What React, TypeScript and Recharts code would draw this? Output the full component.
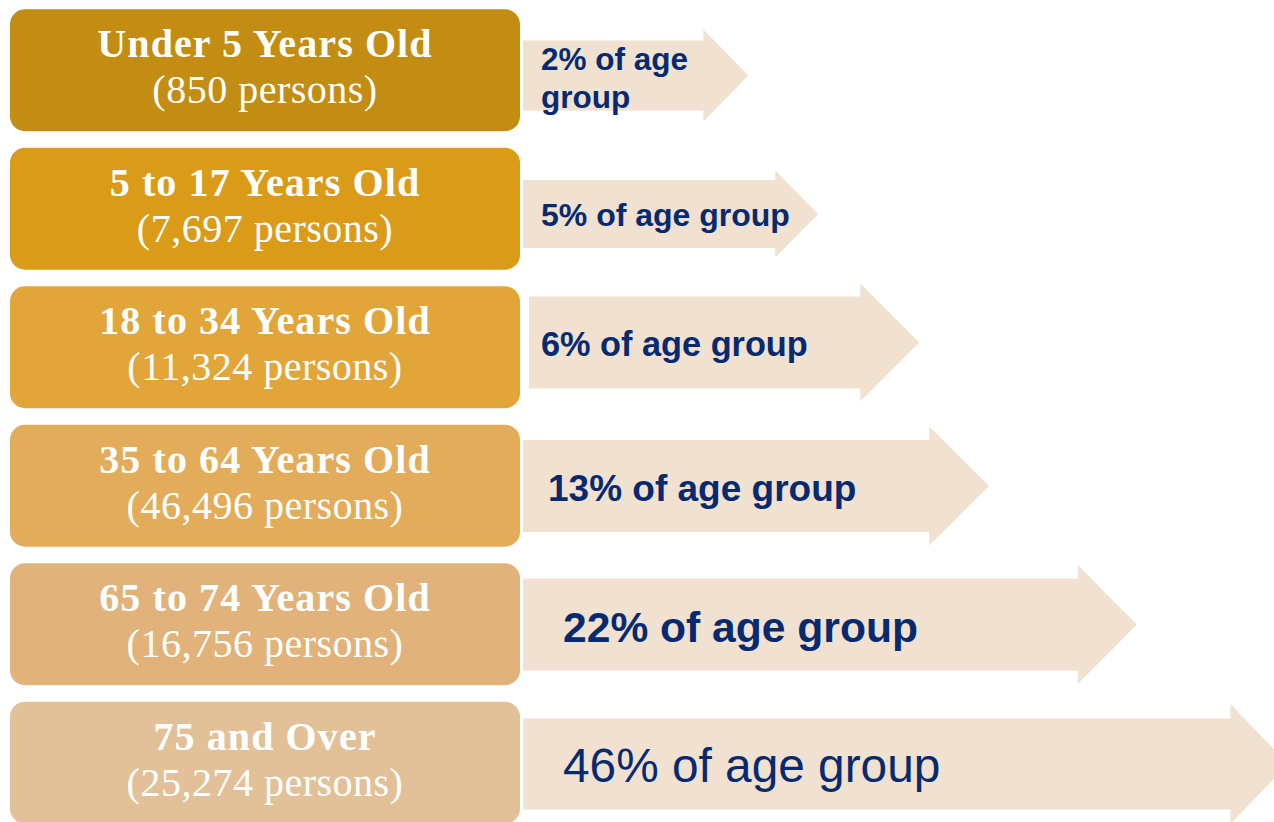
import { Bar, BarChart, XAxis, YAxis } from "recharts";

// age groups, people counts and share of each group
const ageGroups = [
  "Under 5 Years Old",
  "5 to 17 Years Old",
  "18 to 34 Years Old",
  "35 to 64 Years Old",
  "65 to 74 Years Old",
  "75 and Over",
];
const persons = [850, 7697, 11324, 46496, 16756, 25274];
const sharePct = [2, 5, 6, 13, 22, 46];
// how far each arrow reaches (0-100 of the arrow track)
const arrowReach = [29, 38, 51, 60, 79, 98.5];

const boxColors = ["#C38C12", "#DA9B19", "#E2A53A", "#E2AC5A", "#E1B37A", "#E3C198"];
const ARROW_FILL = "#F1E1D1";
const TEXT_NAVY = "#062a70";

// per-row arrow look: body/head height, head length, offsets, label font
const arrowStyle = [
  { body: 70, head: 92, headLen: 45, dx: 0, dy: 5, textDx: 18, textDy: 0, font: 31.5, bold: true, wrap: true },
  { body: 68, head: 87, headLen: 43, dx: 0, dy: 5, textDx: 18, textDy: 11.5, font: 32, bold: true, wrap: false },
  { body: 92, head: 118, headLen: 59, dx: 6, dy: -5, textDx: 12, textDy: 13, font: 34.3, bold: true, wrap: false },
  { body: 92, head: 119, headLen: 60, dx: 0, dy: 0, textDx: 25, textDy: 14.5, font: 37, bold: true, wrap: false },
  { body: 92, head: 119, headLen: 59, dx: 0, dy: 0, textDx: 40, textDy: 17, font: 42.6, bold: true, wrap: false },
  { body: 91, head: 120, headLen: 58, dx: 0, dy: 1, textDx: 40, textDy: 17.5, font: 47.8, bold: false, wrap: false },
];

const data = ageGroups.map((group, i) => ({
  group,
  persons: persons[i],
  share: sharePct[i],
  reach: arrowReach[i],
}));

const BOX_LEFT = 10;
const BOX_RIGHT = 520;
const BOX_H = 122;
const SERIF = "'Liberation Serif', 'Times New Roman', serif";
const SANS = "'Liberation Sans', Arial, sans-serif";

function BoxTick(props: any) {
  const { y, payload } = props;
  const i = ageGroups.indexOf(payload.value);
  const cx = (BOX_LEFT + BOX_RIGHT) / 2;
  return (
    <g>
      <rect
        x={BOX_LEFT}
        y={y - BOX_H / 2}
        width={BOX_RIGHT - BOX_LEFT}
        height={BOX_H}
        rx={15}
        ry={15}
        fill={boxColors[i]}
      />
      <text
        x={cx}
        y={y - 13}
        textAnchor="middle"
        fill="#fff"
        fontFamily={SERIF}
        fontWeight="bold"
        fontSize={40}
        letterSpacing={1.1}
      >
        {payload.value}
      </text>
      <text
        x={cx}
        y={y + 33}
        textAnchor="middle"
        fill="#fff"
        fontFamily={SERIF}
        fontSize={40}
        letterSpacing={0.5}
      >
        ({persons[i].toLocaleString("en-US")} persons)
      </text>
    </g>
  );
}

function Arrow(props: any) {
  const { x, y, width, height, index } = props;
  const s = arrowStyle[index];
  const cy = y + height / 2 + s.dy;
  const x0 = x + s.dx;
  const tip = x + width;
  const base = tip - s.headLen;
  const b = s.body / 2;
  const h = s.head / 2;
  const d = `M${x0},${cy - b} L${base},${cy - b} L${base},${cy - h} L${tip},${cy} L${base},${cy + h} L${base},${cy + b} L${x0},${cy + b} Z`;
  const label = `${sharePct[index]}% of age group`;
  const tx = x0 + s.textDx;
  return (
    <g>
      <path d={d} fill={ARROW_FILL} />
      {s.wrap ? (
        <text fill={TEXT_NAVY} fontFamily={SANS} fontWeight="bold" fontSize={s.font}>
          <tspan x={tx} y={cy - 6}>{`${sharePct[index]}% of age`}</tspan>
          <tspan x={tx} y={cy + 32}>group</tspan>
        </text>
      ) : (
        <text
          x={tx}
          y={cy + s.textDy}
          fill={TEXT_NAVY}
          fontFamily={SANS}
          fontWeight={s.bold ? "bold" : "normal"}
          fontSize={s.font}
        >
          {label}
        </text>
      )}
    </g>
  );
}

export default function App() {
  return (
    <div
      style={{
        position: "absolute",
        left: 0,
        top: 0,
        width: 1274,
        height: 822,
        overflow: "hidden",
        background: "#fff",
      }}
    >
      <BarChart
        width={1300}
        height={833}
        data={data}
        layout="vertical"
        margin={{ top: 1, right: 0, bottom: 1, left: 0 }}
        barCategoryGap={0}
      >
        <XAxis type="number" hide domain={[0, 100]} />
        <YAxis
          type="category"
          dataKey="group"
          width={523}
          axisLine={false}
          tickLine={false}
          interval={0}
          tick={<BoxTick />}
        />
        <Bar dataKey="reach" isAnimationActive={false} shape={<Arrow />} />
      </BarChart>
    </div>
  );
}
